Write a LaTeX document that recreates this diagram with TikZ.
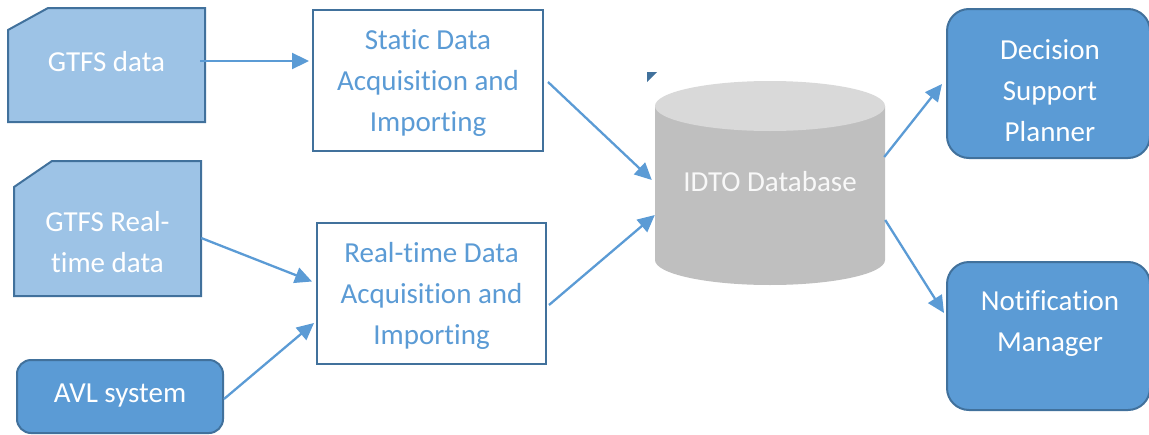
\documentclass[tikz,border=0pt]{standalone}
\usepackage{fontspec}
\setmainfont{Carlito}[RawFeature={-liga;-clig;-dlig;-calt}]
\usetikzlibrary{arrows.meta}
\definecolor{lightfill}{HTML}{9DC3E6}
\definecolor{darkfill}{HTML}{5B9BD5}
\definecolor{edge}{HTML}{41719C}
\definecolor{arrowc}{HTML}{5B9BD5}
\definecolor{dbbody}{HTML}{BFBFBF}
\definecolor{dbtop}{HTML}{D9D9D9}
\definecolor{dbtext}{HTML}{F8F8F8}
\tikzset{
  txt/.style={font=\fontsize{29}{41}\selectfont, align=center},
  snipline/.style={draw=edge, line width=2pt, fill=lightfill, line join=miter},
  anchorbox/.style={rectangle, inner sep=0pt, draw=none},
  procbox/.style={rectangle, draw=edge, line width=2pt, fill=white, inner sep=0pt},
  roundbox/.style={rectangle, rounded corners=14pt, draw=edge, line width=2pt, fill=darkfill, inner sep=0pt},
  arr/.style={draw=arrowc, line width=2.3pt, -{Triangle[length=17pt,width=16pt]}},
}
\begin{document}
\begin{tikzpicture}[x=1pt,y=-1pt]
\useasboundingbox (0,0) rectangle (1149,434);
% input nodes (snipped-corner boxes)
\path[snipline] (8,30) -- (48,8) -- (205,8) -- (205,122) -- (8,122) -- cycle;
\node[anchorbox, minimum width=197pt, minimum height=114pt] (gtfs) at (106.5,65) {};
\node[txt, text=white] (gtfslbl) at (106.5,62) {GTFS data};
\path[snipline] (14,187) -- (52,161) -- (201,161) -- (201,296) -- (14,296) -- cycle;
\node[anchorbox, minimum width=187pt, minimum height=135pt] (gtfsrt) at (107.5,228.5) {};
\node[txt, text=white] (gtfsrtlbl) at (107.5,242) {GTFS Real-\\time data};
\node[roundbox, minimum width=206pt, minimum height=73pt] (avl) at (120,396.5) {};
\node[txt, text=white] (avllbl) at (120,396) {AVL system};
% processing
\node[procbox, minimum width=230pt, minimum height=141pt] (static) at (428,80.5) {};
\node[txt, text=arrowc] (staticlbl) at (428,83) {Static Data\\Acquisition and\\Importing};
\node[procbox, minimum width=229pt, minimum height=141pt] (rt) at (431.5,293.5) {};
\node[txt, text=arrowc] (rtlbl) at (431.5,296) {Real-time Data\\Acquisition and\\Importing};
% database cylinder
\fill[dbbody] (655,106) -- (655,260) arc[start angle=180, end angle=360, x radius=115, y radius=-25] -- (885,106) -- cycle;
\fill[dbtop] (770,106) ellipse[x radius=115, y radius=25];
\node[anchorbox, minimum width=230pt, minimum height=204pt] (db) at (770,183) {};
\node[txt, text=dbtext] (dblbl) at (770,182) {IDTO Database};
\fill[edge] (647,72) -- (657,72) -- (647,82) -- cycle;
% outputs
\node[roundbox, minimum width=203pt, minimum height=149pt, rounded corners=22pt] (dsp) at (1048.5,83.5) {};
\node[txt, text=white] (dsplbl) at (1050,91) {Decision\\Support\\Planner};
\node[roundbox, minimum width=203pt, minimum height=148pt, rounded corners=22pt] (nm) at (1048.5,336) {};
\node[txt, text=white] (nmlbl) at (1050,324) {Notification\\Manager};
% connectors
\draw[arr] ([shift={(-5,-4)}]gtfs.east) -- ([shift={(-3,-19.5)}]static.west);
\draw[arr] ([shift={(0,9.5)}]gtfsrt.east) -- ([shift={(-4,-12)}]rt.west);
\draw[arr] ([shift={(0,2.5)}]avl.east) -- ([shift={(-2,29.5)}]rt.west);
\draw[arr] ([shift={(4,1.5)}]static.east) -- ([shift={(-3,-3)}]db.west);
\draw[arr] ([shift={(2,11.5)}]rt.east) -- ([shift={(0,32)}]db.west);
\draw[arr] ([shift={(-1,-26)}]db.east) -- ([shift={(-4,0.5)}]dsp.west);
\draw[arr] ([shift={(0,37)}]db.east) -- ([shift={(-2,-23)}]nm.west);
\end{tikzpicture}
\end{document}
